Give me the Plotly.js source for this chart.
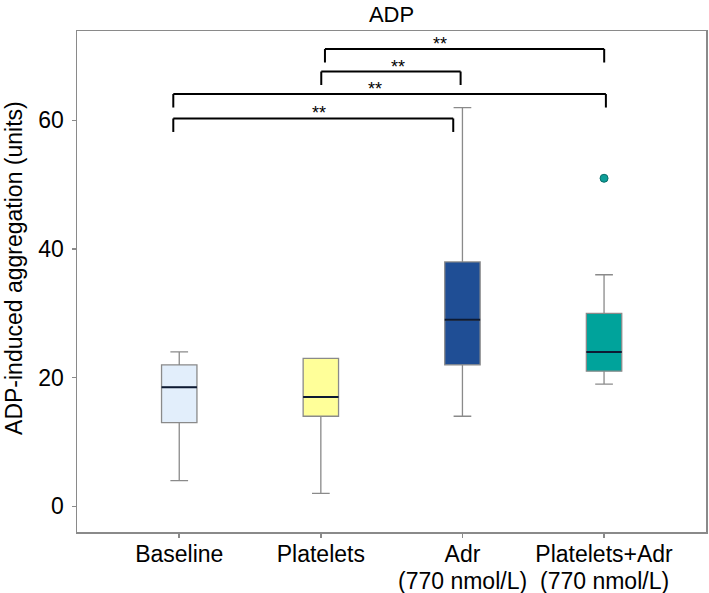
<!DOCTYPE html>
<html>
<head>
<meta charset="utf-8">
<script src="https://cdn.plot.ly/plotly-3.0.1.min.js"></script>
<style>html,body{margin:0;padding:0;background:#fff;}#chart{width:709px;height:593px;}</style>
</head>
<body>
<div id="chart"></div>
<script>
// ---- data ----
const categories = ["Baseline", "Platelets", "Adr", "Platelets+Adr"];
const subLabels = ["", "", "(770 nmol/L)", "(770 nmol/L)"];
const lowerWhisker = [4, 2, 14, 19];
const q1 = [13, 14, 22, 21];
const median = [18.5, 17, 29, 24];
const q3 = [22, 23, 38, 30];
const upperWhisker = [24, 23, 62, 36];
const outlierGroup = ["Platelets+Adr"];
const outlierValue = [51];
// significance comparisons (group index pairs) and labels
const compFrom = [0, 0, 1, 1];
const compTo = [2, 3, 2, 3];
const compLabel = ["**", "**", "**", "**"];

// ---- styles / layout positions ----
const fills = ["#E2EEFB", "#FFFF99", "#1F4E95", "#00A39B"];
const edge = "#8a8a8a";
const font = "Liberation Sans, Arial, Helvetica, sans-serif";
const bracketY = [60.3, 64.1, 67.6, 71.1];
const bracketDrop = 2.1;
const bracketNudgeL = [-0.042, -0.042, 0.003, 0.029];
const bracketNudgeR = [-0.065, 0.013, -0.013, 0.001];
const starX = [0.989, 1.382, 1.547, 1.840];

const traces = categories.map((c, i) => ({
  type: "box",
  x: [c],
  q1: [q1[i]], median: [median[i]], q3: [q3[i]],
  lowerfence: [lowerWhisker[i]], upperfence: [upperWhisker[i]],
  fillcolor: fills[i],
  line: {color: edge, width: 1.3},
  width: 0.25,
  whiskerwidth: 0.5,
  boxpoints: false,
  hoverinfo: "skip",
  showlegend: false
}));
// median lines (dark), drawn as collapsed boxes
traces.push({
  type: "box",
  x: categories,
  q1: median, median: median, q3: median,
  lowerfence: median, upperfence: median,
  fillcolor: "rgba(0,0,0,0)",
  line: {color: "#0d1a33", width: 2},
  width: 0.25,
  whiskerwidth: 0,
  boxpoints: false,
  hoverinfo: "skip",
  showlegend: false
});
traces.push({
  type: "scatter", mode: "markers",
  x: outlierGroup, y: outlierValue,
  marker: {color: "#0E9E98", size: 8, line: {color: "#0a6e6a", width: 1}},
  hoverinfo: "skip", showlegend: false
});

const shapes = [];
const annotations = [];
for (let k = 0; k < compFrom.length; k++) {
  const xa = compFrom[k] + bracketNudgeL[k];
  const xb = compTo[k] + bracketNudgeR[k];
  const y = bracketY[k];
  const ln = {color: "#000", width: 2};
  shapes.push({type: "line", xref: "x", yref: "y", x0: xa, x1: xb, y0: y, y1: y, line: ln});
  shapes.push({type: "line", xref: "x", yref: "y", x0: xa, x1: xa, y0: y, y1: y - bracketDrop, line: ln});
  shapes.push({type: "line", xref: "x", yref: "y", x0: xb, x1: xb, y0: y, y1: y - bracketDrop, line: ln});
  annotations.push({xref: "x", yref: "y", x: starX[k], y: y, text: compLabel[k], showarrow: false,
    yanchor: "bottom", yshift: -7, font: {family: font, size: 18, color: "#000"}});
}
subLabels.forEach((s, i) => {
  if (s) annotations.push({xref: "x", yref: "paper", x: i, y: -0.0985, yanchor: "middle",
    text: s, showarrow: false, font: {family: font, size: 23, color: "#000"}});
});
annotations.push({xref: "paper", yref: "paper", x: -0.1002, y: 0.527, xanchor: "center", yanchor: "middle",
  textangle: -90, text: "ADP-induced aggregation (units)", showarrow: false,
  font: {family: font, size: 23, color: "#000"}});

const layout = {
  width: 709, height: 593,
  margin: {l: 77, r: 3, t: 31, b: 61.3},
  paper_bgcolor: "#fff", plot_bgcolor: "#fff",
  font: {family: font, color: "#000"},
  title: {text: "ADP", x: 0.5, xref: "paper", y: 1 - 14 / 593, yref: "container", yanchor: "middle",
    font: {family: font, size: 22, color: "#000"}},
  xaxis: {
    type: "category", categoryarray: categories, range: [-0.722, 3.72],
    showline: true, mirror: true, linecolor: edge, linewidth: 1.5,
    ticks: "outside", ticklen: 4, tickcolor: edge, tickwidth: 1.5,
    ticklabelstandoff: -3,
    showgrid: false, zeroline: false,
    tickfont: {family: font, size: 23, color: "#000"}
  },
  yaxis: {
    range: [-4, 73.9], tickvals: [0, 20, 40, 60],
    showline: true, mirror: true, linecolor: edge, linewidth: 1.5,
    ticks: "outside", ticklen: 4, tickcolor: edge, tickwidth: 1.5,
    ticklabelstandoff: 3,
    showgrid: false, zeroline: false,
    tickfont: {family: font, size: 23, color: "#000"}
  },
  shapes: shapes,
  annotations: annotations,
  showlegend: false
};
Plotly.newPlot("chart", traces, layout, {displayModeBar: false, staticPlot: true});
</script>
</body>
</html>
